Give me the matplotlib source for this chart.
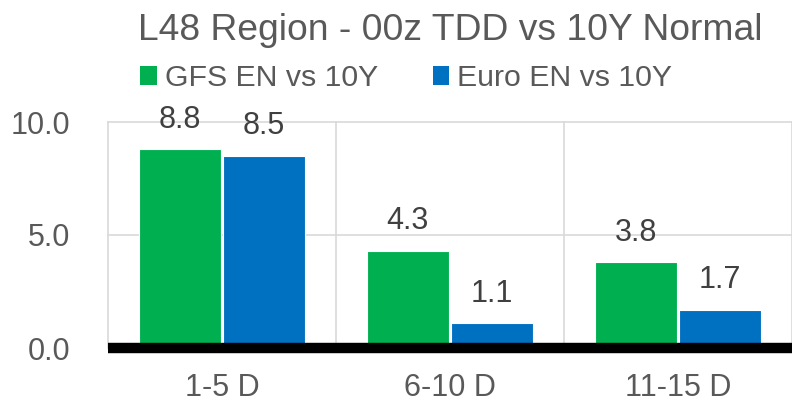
import matplotlib
matplotlib.use("Agg")
import matplotlib.pyplot as plt
from matplotlib.patches import Patch
import numpy as np

plt.rcParams['font.family'] = ['Liberation Sans', 'DejaVu Sans']

categories = ["1-5 D", "6-10 D", "11-15 D"]
gfs = [8.8, 4.3, 3.8]
euro = [8.5, 1.1, 1.7]
series_names = ["GFS EN vs 10Y", "Euro EN vs 10Y"]
yticks = [0.0, 5.0, 10.0]

GREEN = "#00B050"
BLUE = "#0070C0"
GRAY = "#595959"
GRID = "#D9D9D9"

W, H = 792, 408
fig = plt.figure(figsize=(W / 100, H / 100), dpi=100)
ax = fig.add_axes([108 / W, 1 - 348 / H, 1 - 108 / W, (348 - 122) / H])

x = np.arange(len(categories))
bw = 0.36
off = 0.185
b1 = ax.bar(x - off, gfs, bw, color=GREEN, edgecolor="white", linewidth=0.8, zorder=3)
b2 = ax.bar(x + off, euro, bw, color=BLUE, edgecolor="white", linewidth=0.8, zorder=3)

for bars, vals in ((b1, gfs), (b2, euro)):
    for r, v in zip(bars, vals):
        ax.annotate(f"{v:.1f}", (r.get_x() + r.get_width() / 2, v),
                    xytext=(0, 15.5), textcoords="offset points",
                    ha="center", va="baseline", fontsize=22, color="#404040",
                    annotation_clip=False)

ax.set_xlim(-0.5, len(categories) - 0.5)
ax.set_ylim(0, 10)
ax.set_yticks(yticks)
ax.set_yticklabels([f"{t:.1f}" for t in yticks])
ax.set_xticks(x)
ax.set_xticklabels(categories)
ax.tick_params(axis="both", length=0, labelsize=22, labelcolor=GRAY)
ax.tick_params(axis="y", pad=27)
ax.tick_params(axis="x", pad=18)

for s in ax.spines.values():
    s.set_visible(False)

for yv in [5.0, 10.0]:
    ax.axhline(yv, color=GRID, lw=1.2, zorder=1, clip_on=False)
for xv in np.arange(-0.5, len(categories), 1.0):
    ax.plot([xv, xv], [0, 10], color=GRID, lw=1.2, zorder=1, clip_on=False)
ax.axhline(0, color="black", lw=7.5, zorder=4, clip_on=False, solid_capstyle="butt")

fig.text(450 / W, 1 - 40 / H, "L48 Region - 00z TDD vs 10Y Normal",
         ha="center", va="baseline", fontsize=26.8, color=GRAY)

handles = [Patch(facecolor=GREEN), Patch(facecolor=BLUE)]
leg = fig.legend(handles, series_names, loc="center left",
                 bbox_to_anchor=(140 / W, 1 - 78 / H), ncol=2, frameon=False,
                 fontsize=21.8, labelcolor=GRAY, borderpad=0, borderaxespad=0,
                 handlelength=0.55, handleheight=0.6, handletextpad=0.27,
                 columnspacing=1.8)

fig.savefig("out.png", dpi=100)
